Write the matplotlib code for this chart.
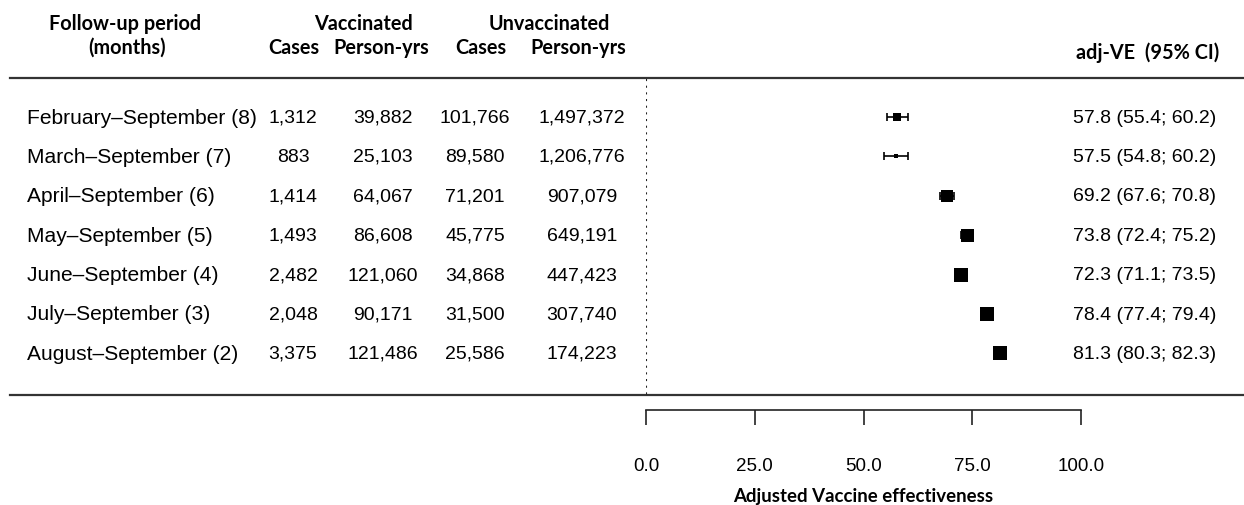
import matplotlib
matplotlib.use("Agg")
import matplotlib.pyplot as plt
from matplotlib.lines import Line2D

# ---- data ----
periods = ["February\u2013September (8)", "March\u2013September (7)", "April\u2013September (6)",
           "May\u2013September (5)", "June\u2013September (4)", "July\u2013September (3)",
           "August\u2013September (2)"]
vacc_cases = [1312, 883, 1414, 1493, 2482, 2048, 3375]
vacc_py = [39882, 25103, 64067, 86608, 121060, 90171, 121486]
unvacc_cases = [101766, 89580, 71201, 45775, 34868, 31500, 25586]
unvacc_py = [1497372, 1206776, 907079, 649191, 447423, 307740, 174223]
ve = [57.8, 57.5, 69.2, 73.8, 72.3, 78.4, 81.3]
ve_lo = [55.4, 54.8, 67.6, 72.4, 71.1, 77.4, 80.3]
ve_hi = [60.2, 60.2, 70.8, 75.2, 73.5, 79.4, 82.3]
xticks = [0.0, 25.0, 50.0, 75.0, 100.0]
box_px = [8, 5, 12, 13, 14, 14, 14]  # marker sizes (style)

W, H = 1244, 506
fig = plt.figure(figsize=(W / 100, H / 100), dpi=100)

BODY = "Liberation Sans"
HEAD = "Lato"

# full-figure overlay in pixel coordinates for table text
tx = fig.add_axes([0, 0, 1, 1])
tx.set_xlim(0, W)
tx.set_ylim(H, 0)
tx.axis("off")

row_y0, row_dy = 118, 39.4
fs = 14
for i in range(len(periods)):
    y = row_y0 + i * row_dy
    tx.text(27, y, periods[i], ha="left", va="center", fontsize=15.1, family=BODY)
    tx.text(293, y, f"{vacc_cases[i]:,}", ha="center", va="center", fontsize=fs, family=BODY)
    tx.text(383, y, f"{vacc_py[i]:,}", ha="center", va="center", fontsize=fs, family=BODY)
    tx.text(475, y, f"{unvacc_cases[i]:,}", ha="center", va="center", fontsize=fs, family=BODY)
    tx.text(582, y, f"{unvacc_py[i]:,}", ha="center", va="center", fontsize=fs, family=BODY)
    tx.text(1216, y, f"{ve[i]:.1f} ({ve_lo[i]:.1f}; {ve_hi[i]:.1f})", ha="right",
            va="center", fontsize=fs, family=BODY)

hfs = 14.3
hkw = dict(fontsize=hfs, family=HEAD, fontweight="bold", va="center", ha="center")
tx.text(125, 24, "Follow-up period", **hkw)
tx.text(127, 48, "(months)", **hkw)
tx.text(363, 24, "Vaccinated", **hkw)
tx.text(549, 24, "Unvaccinated", **hkw)
tx.text(294, 48, "Cases", **hkw)
tx.text(381, 48, "Person-yrs", **hkw)
tx.text(481, 48, "Cases", **hkw)
tx.text(578, 48, "Person-yrs", **hkw)
tx.text(1148, 53, "adj-VE  (95% CI)", **hkw)

tx.add_line(Line2D([10, W], [79, 79], color="#333333", lw=1.6))
tx.add_line(Line2D([10, W], [396, 396], color="#333333", lw=1.6))

# forest axes: VE 0 -> px 646, 100 -> px 1081; rows in pixel 80..411
x0, x1 = 646, 1081
ytop, ybot, yaxis = 80, 400, 411
ax = fig.add_axes([x0 / W, 1 - yaxis / H, (x1 - x0) / W, (yaxis - ytop) / H])
ax.patch.set_alpha(0)
ax.set_xlim(0, 100)
ylo = (ytop - row_y0) / row_dy
yhi = (yaxis - row_y0) / row_dy
ax.set_ylim(yhi, ylo)
ax.plot([0, 0], [ylo, (ybot - row_y0) / row_dy], ls=(0, (1, 2.2)), color="#222222", lw=1.5)

for i in range(len(ve)):
    ax.errorbar(ve[i], i, xerr=[[ve[i] - ve_lo[i]], [ve_hi[i] - ve[i]]], fmt="none",
                ecolor="black", elinewidth=1.2, capsize=2.8, capthick=1.2)
    ax.plot(ve[i], i, marker="s", ms=box_px[i] * 0.72, color="black", mec="black", mew=0)

for s in ["top", "right", "left"]:
    ax.spines[s].set_visible(False)
ax.spines["bottom"].set_bounds(0, 100)
ax.spines["bottom"].set_linewidth(1.2)
ax.spines["bottom"].set_color("#222222")
ax.set_yticks([])
ax.set_xticks(xticks)
ax.set_xticklabels([f"{t:.1f}" for t in xticks], family=BODY, fontsize=13.5)
ax.tick_params(axis="x", direction="out", length=10.5, width=1.2, pad=23, colors="#222222")
ax.tick_params(axis="x", labelcolor="black")
ax.set_xlabel("Adjusted Vaccine effectiveness", family=HEAD, fontweight="bold",
              fontsize=13.4, labelpad=10)

fig.savefig("out.png", dpi=100)
